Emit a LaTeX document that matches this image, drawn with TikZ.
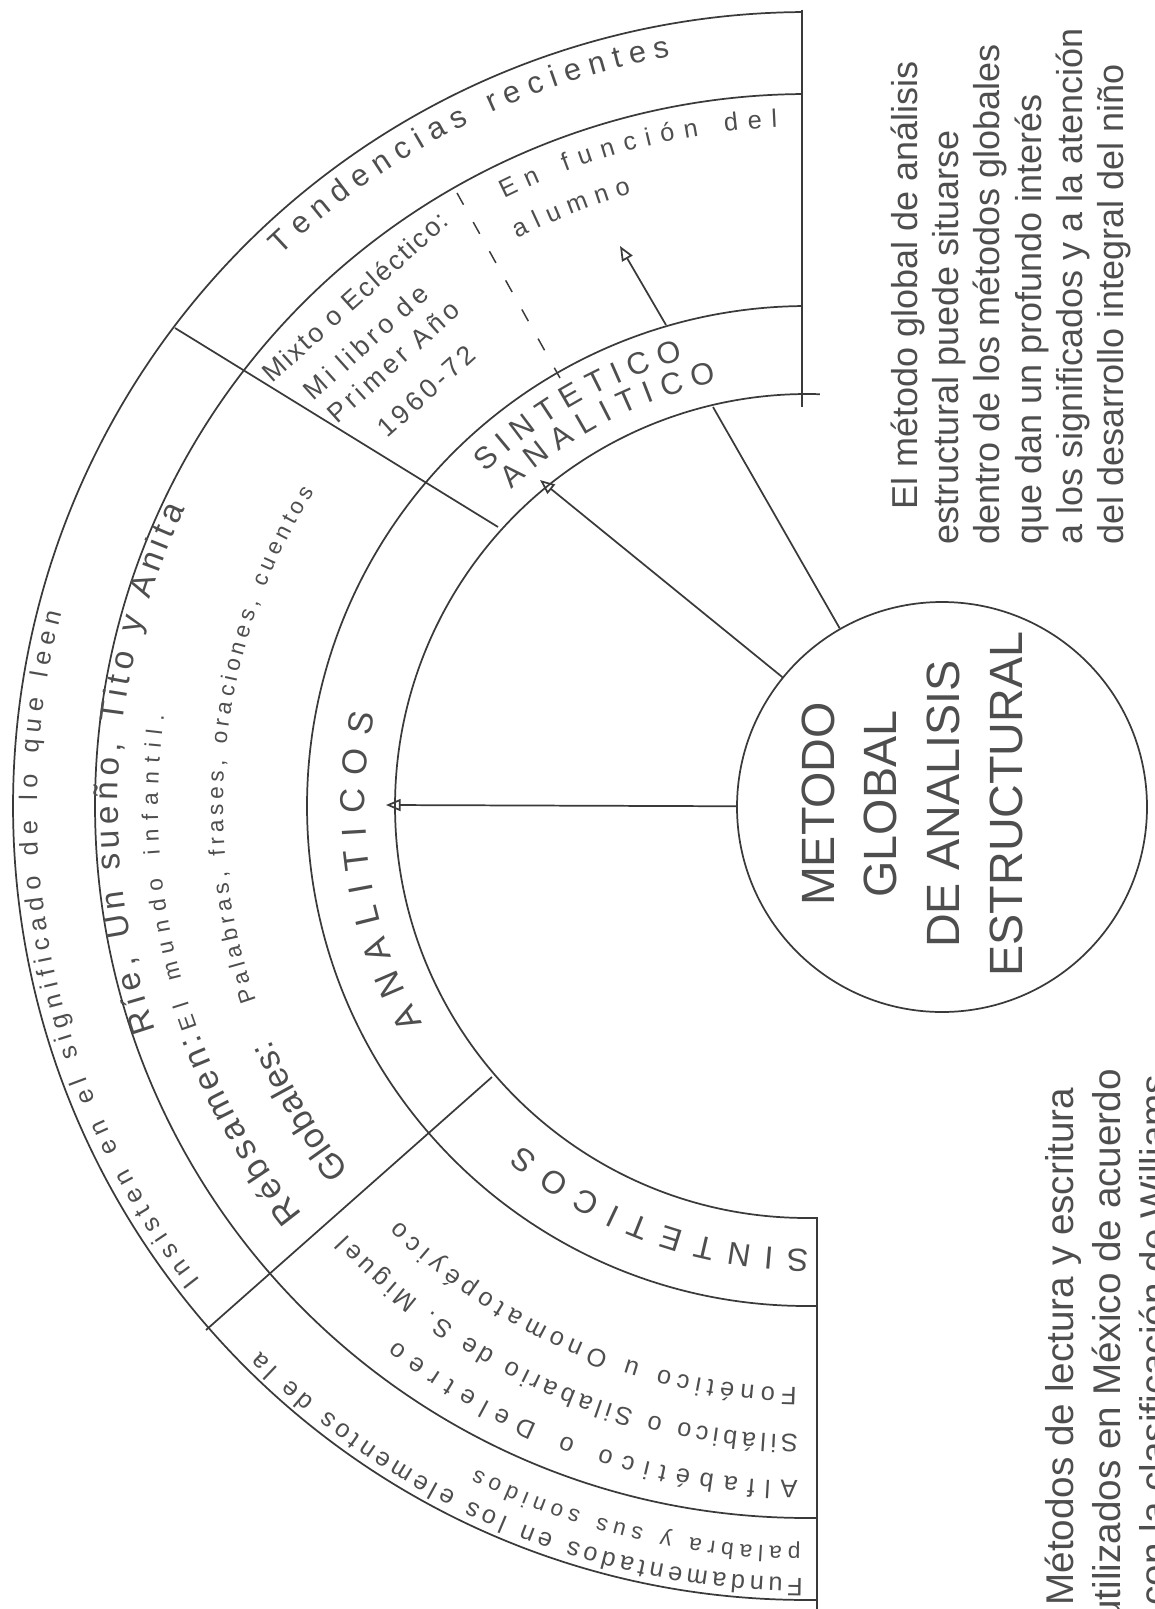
\documentclass[tikz,border=0pt]{standalone}
\usepackage{fontspec}
\setmainfont{Liberation Sans}
\usepackage{tikz}
\usetikzlibrary{arrows.meta,decorations.text}
\tikzset{every picture/.style={line width=0.75pt}}
\definecolor{ink}{RGB}{58,58,58}
\definecolor{pencil}{RGB}{78,78,78}
\tikzset{
  ring/.style={draw=ink, line width=1.3pt},
  link/.style={draw=ink, line width=1.3pt},
  opentip/.style={-{Triangle[open,length=11pt,width=9pt]}},
  curved/.style 2 args={decorate, decoration={text along path, text color=pencil, text align={fit to path}, text={|\fontsize{#1}{#1}\selectfont|#2}}},
  flat/.style={text=pencil, inner sep=0pt},
  slanted/.style={flat, rotate=42, anchor=base west, font=\fontsize{20}{20}\selectfont\addfontfeatures{LetterSpace=#1}},
}

\begin{document}
\begin{tikzpicture}[x=0.75pt,y=0.75pt,yscale=-1,xscale=1]
\useasboundingbox (0,0) rectangle (1155,1609);
\coordinate (fc) at (807,806);

% fan
\draw [ring] ([shift={(89.28:794)}]fc) arc [start angle=89.28, end angle=269.64, radius=794];
\draw [ring] ([shift={(89.2:712)}]fc) arc [start angle=89.2, end angle=269.6, radius=712];
\draw [ring] ([shift={(88.85:500)}]fc) arc [start angle=88.85, end angle=269.43, radius=500];
\draw [ring] ([shift={(88.6:412)}]fc) arc [start angle=88.6, end angle=271.8, radius=412];
\draw [ring] (802,10) -- (802,407);
\draw [ring] (817,1217) -- (817,1609);
\draw [ring] (175,328) -- (498,527);
\draw [ring] (206,1330) -- (492,1077);
\draw [ring, line width=1.1pt, dash pattern={on 10pt off 15pt}] (457,193) -- (560,378);

% outer ring
\path [curved={23}{Tendencias recientes}] ([shift={(226.3:762)}]fc) arc [start angle=226.3, end angle=259.7, radius=762];
\path [curved={19}{Insisten en el significado de lo que leen}] ([shift={(142:770)}]fc) arc [start angle=142, end angle=194.5, radius=770];
\path [curved={19}{Fundamentados en los elementos de la}] ([shift={(90.3:772)}]fc) arc [start angle=90.3, end angle=135, radius=772];
\path [curved={17}{palabra y sus sonidos}] ([shift={(90.5:741)}]fc) arc [start angle=90.5, end angle=116.5, radius=741];

% second ring
\path [curved={19}{En función del}] ([shift={(243.5:679)}]fc) arc [start angle=243.5, end angle=267.5, radius=679];
\path [curved={19}{alumno}] ([shift={(243:637)}]fc) arc [start angle=243, end angle=254, radius=637];
\path [curved={25}{Ríe, Un sueño, Tito y Anita}] ([shift={(161:689)}]fc) arc [start angle=161, end angle=205.5, radius=689];
\path [curved={26}{Rébsamen:}] ([shift={(141:649)}]fc) arc [start angle=141, end angle=159.5, radius=649];
\path [curved={17}{El mundo infantil.}] ([shift={(160:649)}]fc) arc [start angle=160, end angle=188, radius=649];
\path [curved={26}{Globales:}] ([shift={(141.5:585)}]fc) arc [start angle=141.5, end angle=156.5, radius=585];
\path [curved={17}{Palabras, frases, oraciones, cuentos}] ([shift={(160.5:584)}]fc) arc [start angle=160.5, end angle=212.5, radius=584];
\path [curved={19}{Alfabético o Deletreo}] ([shift={(90.8:675)}]fc) arc [start angle=90.8, end angle=127.5, radius=675];
\path [curved={19}{Silábico o Silabario de S. Miguel}] ([shift={(90.8:629)}]fc) arc [start angle=90.8, end angle=137, radius=629];
\path [curved={19}{Fonético u Onomatopéyico}] ([shift={(91:582)}]fc) arc [start angle=91, end angle=134.5, radius=582];

\node (mixto) [slanted=8] at (272,384) {Mixto o Ecléctico:};
\node (milibro) [slanted=16] at (313,402) {Mi libro de};
\node (primer) [slanted=16] at (337,425) {Primer Año};
\node (anios) [slanted=15] at (387,439) {1960-72};

% third ring
\path [curved={26}{ANALITICOS}] ([shift={(150.5:442)}]fc) arc [start angle=150.5, end angle=192, radius=442];
\path [curved={23}{SINTETICO}] ([shift={(226:463)}]fc) arc [start angle=226, end angle=254.5, radius=463];
\path [curved={23}{ANALITICO}] ([shift={(227:433)}]fc) arc [start angle=227, end angle=258, radius=433];
\path [curved={24}{SINTETICOS}] ([shift={(89.8:443)}]fc) arc [start angle=89.8, end angle=130, radius=443];

% centre and arrows
\node (metodo) [circle, draw=ink, line width=1.3pt, minimum size=307.5pt, inner sep=0pt] at (942,807) {};
\node (metodotxt) [flat, rotate=90, align=center, font=\fontsize{35}{47}\selectfont] at (912,804) {METODO\\GLOBAL\\DE ANALISIS\\ESTRUCTURAL};
\coordinate (analitip) at (386,805);
\coordinate (sintip) at (540,480);
\coordinate (funcA) at (713,407);
\coordinate (funcB) at (666,325);
\coordinate (functip) at (620,246);
\draw [link, opentip] (metodo) -- (analitip);
\draw [link, opentip] (metodo) -- (sintip);
\draw [link] (metodo) -- (funcA);
\draw [link, opentip] (funcB) -- (functip);

% side notes
\node (nota) [flat, rotate=90, anchor=north west, align=left, font=\fontsize{27}{31}\selectfont] at (890,545) {\hspace*{26pt}El método global de análisis\\estructural puede situarse\\dentro de los métodos globales\\que dan un profundo interés\\a los significados y a la atención\\del desarrollo integral del niño};
\node (metodos) [flat, rotate=90, anchor=north west, align=left, font=\fontsize{29}{35}\selectfont] at (1045,1606) {Métodos de lectura y escritura\\\hspace*{-12pt}utilizados en México de acuerdo\\con la clasificación de Williams};
\end{tikzpicture}
\end{document}
